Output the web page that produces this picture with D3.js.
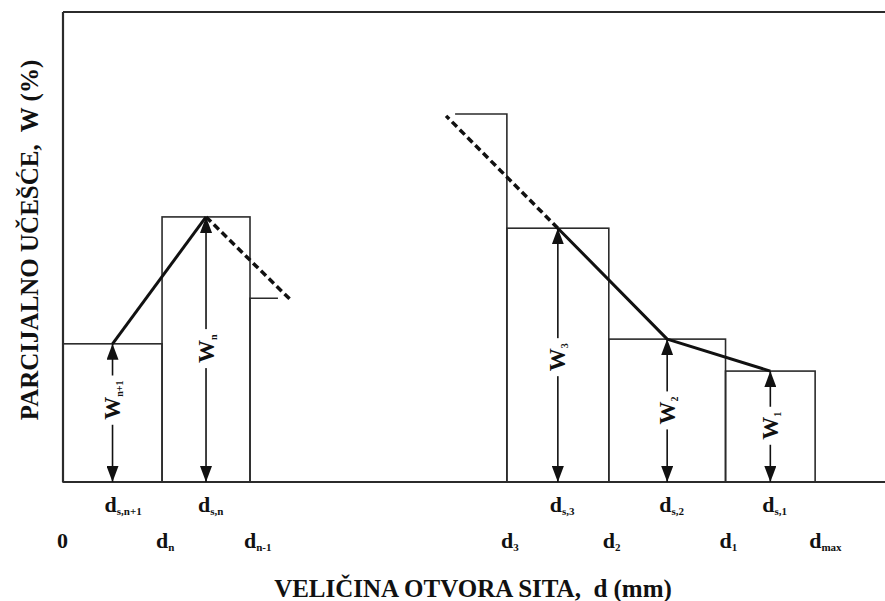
<!DOCTYPE html>
<html>
<head>
<meta charset="utf-8">
<script src="https://cdn.jsdelivr.net/npm/d3@7/dist/d3.min.js"></script>
<style>
  html, body { margin: 0; padding: 0; background: #fff; }
  svg { display: block; }
  svg text { white-space: pre; }
</style>
</head>
<body>
<svg id="chart" width="885" height="601"></svg>
<script>
// ---------------- DATA ----------------
// histogram bins (x in sieve-opening units, W in %)
const binNames = ["n+1", "n", "3", "2", "1"];
const binLo    = [0, 12.05, 54.0, 66.4, 80.6];
const binHi    = [12.05, 22.75, 66.4, 80.6, 91.5];
const binW     = [29.4, 56.4, 54.0, 30.4, 23.6];

// partially drawn neighbouring bins
const stubNames = ["n-1", "4"];
const stubLo    = [22.75, 47.7];
const stubHi    = [26.15, 54.0];
const stubW     = [39.1, 78.3];
const stubSide  = ["left", "right"];

// solid connecting lines (through bin mid-tops)
const solidGroups = [["n+1", "n"], ["3", "2", "1"]];
// dashed extensions: from bin mid-top to an end point
const dashFrom = ["n", "3"];
const dashToX  = [27.6, 46.6];
const dashToY  = [38.9, 77.9];

// tick labels
const edgeMain = ["0", "d", "d", "d", "d", "d", "d"];
const edgeSub  = ["", "n", "n-1", "3", "2", "1", "max"];
const edgeVal  = [0, 12.05, 22.75, 54.0, 66.4, 80.6, 91.5];
const midSub   = ["s,n+1", "s,n", "s,3", "s,2", "s,1"];

const xTitle = "VELIČINA OTVORA SITA,  d (mm)";
const yTitle = "PARCIJALNO UČEŠĆE,  W (%)";

// ---------------- LAYOUT ----------------
const FONT = "'Liberation Serif', 'Times New Roman', Times, Tinos, 'Nimbus Roman', 'Nimbus Roman No9 L', FreeSerif, 'Noto Serif', 'DejaVu Serif', serif";
const labelFrac = [0.53, 0.49, 0.48, 0.48, 0.48];
const svg = d3.select("#chart");
const x = d3.scaleLinear().domain([0, 100]).range([63, 885]);
const y = d3.scaleLinear().domain([0, 100]).range([482, 12]);
const lineCol = "#2b2b2b";

const defs = svg.append("defs");
defs.append("marker")
  .attr("id", "arr")
  .attr("viewBox", "0 -6 16 12")
  .attr("refX", 16).attr("refY", 0)
  .attr("markerUnits", "userSpaceOnUse")
  .attr("markerWidth", 16).attr("markerHeight", 12)
  .attr("orient", "auto-start-reverse")
  .append("path").attr("d", "M0,-6L16,0L0,6Z").attr("fill", "#111");

const txt = (sel) => sel.append("text").attr("font-family", FONT).attr("font-weight", "bold").attr("fill", "#111");

// frame: top, left
const frame = svg.append("g").attr("stroke", lineCol).attr("fill", "none");
frame.append("line").attr("x1", x(0)).attr("x2", x(100)).attr("y1", y(100)).attr("y2", y(100)).attr("stroke-width", 2.2);
frame.append("line").attr("x1", x(0)).attr("x2", x(0)).attr("y1", y(100)).attr("y2", y(0)).attr("stroke-width", 2.2);

// bars
const bars = binNames.map((n, i) => ({n, lo: binLo[i], hi: binHi[i], w: binW[i], mid: (binLo[i] + binHi[i]) / 2, frac: labelFrac[i]}));
svg.append("g").selectAll("rect").data(bars).join("rect")
  .attr("x", d => x(d.lo)).attr("y", d => y(d.w))
  .attr("width", d => x(d.hi) - x(d.lo)).attr("height", d => y(0) - y(d.w))
  .attr("fill", "none").attr("stroke", lineCol).attr("stroke-width", 1.6);

// stubs
const stubs = stubNames.map((n, i) => ({lo: stubLo[i], hi: stubHi[i], w: stubW[i], side: stubSide[i]}));
svg.append("g").selectAll("path").data(stubs).join("path")
  .attr("d", d => d.side === "left"
    ? `M${x(d.lo)},${y(0)}L${x(d.lo)},${y(d.w)}L${x(d.hi)},${y(d.w)}`
    : `M${x(d.lo)},${y(d.w)}L${x(d.hi)},${y(d.w)}L${x(d.hi)},${y(0)}`)
  .attr("fill", "none").attr("stroke", lineCol).attr("stroke-width", 1.6);

// bottom axis line
frame.append("line").attr("x1", x(0)).attr("x2", x(100)).attr("y1", y(0)).attr("y2", y(0)).attr("stroke-width", 2.2);
svg.node().appendChild(frame.node());

const byName = Object.fromEntries(bars.map(b => [b.n, b]));
const line = d3.line().x(d => x(d.mid)).y(d => y(d.w));

// arrows with labels
const ag = svg.append("g");
bars.forEach(b => {
  const cx = x(b.mid);
  ag.append("line").attr("x1", cx).attr("x2", cx)
    .attr("y1", y(0)).attr("y2", y(b.w))
    .attr("stroke", "#111").attr("stroke-width", 1.6)
    .attr("marker-start", "url(#arr)").attr("marker-end", "url(#arr)");
  const cy = y(b.w * b.frac);
  const g = ag.append("g").attr("transform", `translate(${cx},${cy}) rotate(-90)`);
  const t = txt(g).attr("font-size", 23).attr("x", -11).attr("y", 7.5);
  t.append("tspan").text("W");
  t.append("tspan").attr("font-size", 10).attr("dy", 3).text(b.n);
  const bb = t.node().getBBox();
  g.insert("rect", "text").attr("x", bb.x - 5).attr("y", -4).attr("width", bb.width + 10).attr("height", 8).attr("fill", "#fff");
});

// solid lines
svg.append("g").selectAll("path").data(solidGroups).join("path")
  .attr("d", grp => line(grp.map(n => byName[n])))
  .attr("fill", "none").attr("stroke", "#111").attr("stroke-width", 3).attr("stroke-linejoin", "round");

// dashed extensions
svg.append("g").selectAll("line").data(dashFrom.map((n, i) => ({b: byName[n], tx: dashToX[i], ty: dashToY[i]}))).join("line")
  .attr("x1", d => x(d.b.mid)).attr("y1", d => y(d.b.w))
  .attr("x2", d => x(d.tx)).attr("y2", d => y(d.ty))
  .attr("stroke", "#111").attr("stroke-width", 3.5).attr("stroke-dasharray", "7,4");

// tick labels: bin midpoints (row 1)
const tl = svg.append("g");
bars.forEach((b, i) => {
  const t = txt(tl).attr("x", x(b.mid) - 8).attr("y", 512).attr("font-size", 22);
  t.append("tspan").text("d");
  t.append("tspan").attr("font-size", 11).attr("dy", 3).text(midSub[i]);
});
// tick labels: edges (row 2)
edgeVal.forEach((v, i) => {
  const t = txt(tl).attr("x", x(v) - 6).attr("y", 548).attr("font-size", 22);
  t.append("tspan").text(edgeMain[i]);
  if (edgeSub[i]) t.append("tspan").attr("font-size", 11).attr("dy", 3).text(edgeSub[i]);
});

// axis titles
txt(svg).attr("x", 473).attr("y", 597).attr("text-anchor", "middle").attr("font-size", 25).text(xTitle);
txt(svg).attr("transform", "translate(38,240) rotate(-90)").attr("text-anchor", "middle").attr("font-size", 25).text(yTitle);
</script>
</body>
</html>
